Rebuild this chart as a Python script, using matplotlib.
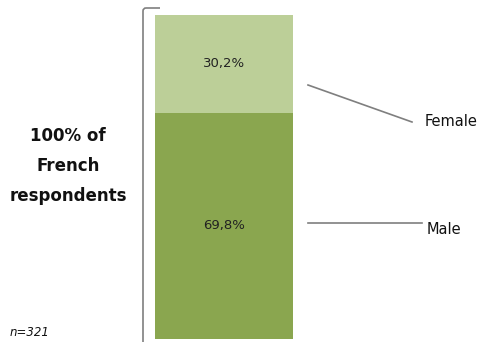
import matplotlib.pyplot as plt
from matplotlib.path import Path
from matplotlib.patches import PathPatch

categories = ['Male', 'Female']
shares = [69.8, 30.2]
value_labels = ['69,8%', '30,2%']
colors = ['#8aa64f', '#bccf98']
sample_note = 'n=321'
side_title = '100% of\nFrench\nrespondents'

W, H = 480, 342
fig = plt.figure(figsize=(W / 100, H / 100), dpi=100)
fig.patch.set_facecolor('white')

# stacked 100% bar, axes sized so the bar fills it
bar_left, bar_right, bar_top, bar_bottom = 155, 293, 15, 339
ax = fig.add_axes([bar_left / W, (H - bar_bottom) / H,
                   (bar_right - bar_left) / W, (bar_bottom - bar_top) / H])
bottom = 0
mids = []
for cat, val, col in zip(categories, shares, colors):
    ax.bar([0], [val], bottom=bottom, width=1.0, color=col, edgecolor='none')
    mids.append(bottom + val / 2)
    bottom += val
ax.set_xlim(-0.5, 0.5)
ax.set_ylim(0, 100)
ax.axis('off')
for mid, lab in zip(mids, value_labels):
    ax.text(0, mid, lab, ha='center', va='center', fontsize=9.5, color='#222222')

# overlay in pixel coordinates for bracket, leader lines and notes
ov = fig.add_axes([0, 0, 1, 1], facecolor='none')
ov.set_xlim(0, W)
ov.set_ylim(H, 0)
ov.axis('off')

bracket = Path([(160, 8), (146, 8), (143, 8), (143, 11), (143, 342)],
               [Path.MOVETO, Path.LINETO, Path.CURVE3, Path.CURVE3, Path.LINETO])
ov.add_patch(PathPatch(bracket, fill=False, edgecolor='#7f7f7f', lw=1.2))

ov.plot([308, 412], [85, 122], color='#7f7f7f', lw=1.2)
ov.text(425, 122, 'Female', ha='left', va='center', fontsize=10.5, color='#111111')
ov.plot([308, 422], [223, 223], color='#7f7f7f', lw=1.2)
ov.text(427, 229, 'Male', ha='left', va='center', fontsize=10.5, color='#111111')

ov.text(68, 166, side_title, ha='center', va='center', fontsize=12,
        fontweight='bold', linespacing=1.85, color='#111111')
ov.text(10, 333, sample_note, ha='left', va='center', fontsize=8.5,
        style='italic', color='#111111')

fig.savefig('out.png', dpi=100)
